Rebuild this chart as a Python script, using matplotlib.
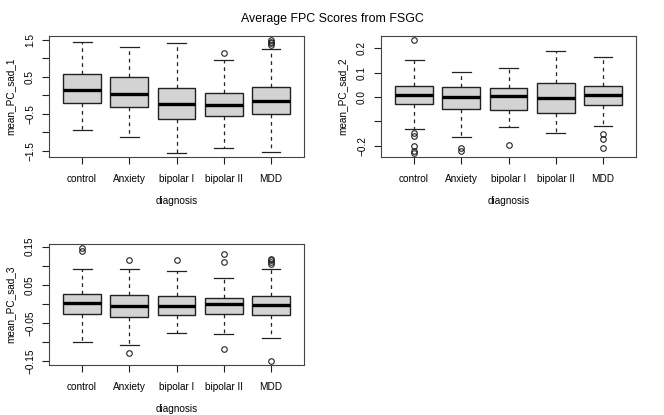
import matplotlib
matplotlib.use("Agg")
import matplotlib.pyplot as plt

plt.rcParams['font.family'] = ['Liberation Sans', 'DejaVu Sans']

categories = ["control", "Anxiety", "bipolar I", "bipolar II", "MDD"]

# Panel 1: mean_PC_sad_1
p1_whislo = [-0.94, -1.14, -1.55, -1.43, -1.53]
p1_q1 = [-0.20, -0.33, -0.63, -0.575, -0.52]
p1_med = [0.15, 0.027, -0.24, -0.27, -0.17]
p1_q3 = [0.575, 0.485, 0.19, 0.06, 0.21]
p1_whishi = [1.45, 1.30, 1.41, 0.94, 1.26]
p1_fliers = [[], [], [], [1.15], [1.48, 1.44, 1.40, 1.37]]

# Panel 2: mean_PC_sad_2
p2_whislo = [-0.131, -0.165, -0.122, -0.147, -0.118]
p2_q1 = [-0.028, -0.050, -0.053, -0.067, -0.033]
p2_med = [0.007, 0.001, 0.004, -0.003, 0.010]
p2_q3 = [0.047, 0.040, 0.036, 0.058, 0.046]
p2_whishi = [0.151, 0.101, 0.118, 0.1875, 0.165]
p2_fliers = [[0.232, -0.147, -0.161, -0.203, -0.222, -0.228],
             [-0.208, -0.222],
             [-0.196],
             [],
             [-0.150, -0.171, -0.208]]

# Panel 3: mean_PC_sad_3
p3_whislo = [-0.099, -0.108, -0.075, -0.079, -0.088]
p3_q1 = [-0.0256, -0.035, -0.030, -0.0265, -0.028]
p3_med = [0.0017, -0.0053, -0.006, -0.001, -0.0036]
p3_q3 = [0.0256, 0.023, 0.022, 0.015, 0.022]
p3_whishi = [0.0926, 0.0926, 0.0856, 0.068, 0.091]
p3_fliers = [[0.145, 0.139], [0.114, -0.128], [0.115],
             [0.1306, 0.109, -0.119], [0.118, 0.114, 0.109, 0.104, -0.148]]

ylabels = ["mean_PC_sad_1", "mean_PC_sad_2", "mean_PC_sad_3"]
yticks = [[1.5, 1.0, 0.5, 0.0, -0.5, -1.0, -1.5],
          [0.2, 0.1, 0.0, -0.1, -0.2],
          [0.15, 0.10, 0.05, 0.0, -0.05, -0.10, -0.15]]
yticklabels = [["1.5", "", "0.5", "", "\u22120.5", "", "\u22121.5"],
               ["0.2", "0.1", "0.0", "", "\u22120.2"],
               ["0.15", "", "0.05", "", "\u22120.05", "", "\u22120.15"]]

panels = [
    (p1_whislo, p1_q1, p1_med, p1_q3, p1_whishi, p1_fliers),
    (p2_whislo, p2_q1, p2_med, p2_q3, p2_whishi, p2_fliers),
    (p3_whislo, p3_q1, p3_med, p3_q3, p3_whishi, p3_fliers),
]

W, H = 664, 415
fig = plt.figure(figsize=(W / 100, H / 100), dpi=100)

# axes rectangles in pixels: (left, top, right, bottom)
rects = [(49, 36, 304, 157), (381, 36, 636, 157), (49, 244, 304, 365)]

edge = "#222222"
fs = 7.2
for i, (rect, pdata) in enumerate(zip(rects, panels)):
    l, t, r, b = rect
    ax = fig.add_axes([l / W, 1 - b / H, (r - l) / W, (b - t) / H])
    wl, q1, md, q3, wh, fl = pdata
    stats = []
    for k in range(len(categories)):
        stats.append(dict(whislo=wl[k], q1=q1[k], med=md[k], q3=q3[k],
                          whishi=wh[k], fliers=fl[k], label=categories[k]))
    ax.bxp(stats, positions=range(1, 6), widths=0.8, patch_artist=True,
           boxprops=dict(facecolor="#D3D3D3", edgecolor=edge, linewidth=1.0),
           medianprops=dict(color="black", linewidth=2.4, solid_capstyle="butt"),
           whiskerprops=dict(color=edge, linewidth=0.9, linestyle=(0, (3, 3))),
           capprops=dict(color=edge, linewidth=0.9),
           flierprops=dict(marker="o", markersize=4, markerfacecolor="none",
                           markeredgecolor=edge, markeredgewidth=0.8),
           capwidths=0.4)
    # y-range like R: data range plus 4%
    allv = wl + wh + [v for f in fl for v in f]
    lo, hi = min(allv), max(allv)
    pad = 0.04 * (hi - lo)
    ax.set_ylim(lo - pad, hi + pad)
    ax.set_xlim(0.3, 5.7)
    ax.set_yticks(yticks[i])
    ax.set_yticklabels(yticklabels[i], rotation=90, va="center")
    ax.set_xticks(range(1, 6))
    ax.set_xticklabels(categories)
    ax.tick_params(axis="both", direction="out", length=5, width=0.8,
                   color=edge, labelsize=fs, pad=5)
    ax.tick_params(axis="x", pad=7)
    for s in ax.spines.values():
        s.set_color("#444444")
        s.set_linewidth(0.8)
    ax.set_xlabel("diagnosis", fontsize=fs, labelpad=9)
    ax.set_ylabel(ylabels[i], fontsize=fs, labelpad=7)

fig.text(0.5, 1 - 19 / H, "Average FPC Scores from FSGC", ha="center",
         va="center", fontsize=8.9)

fig.savefig("out.png", dpi=100)
